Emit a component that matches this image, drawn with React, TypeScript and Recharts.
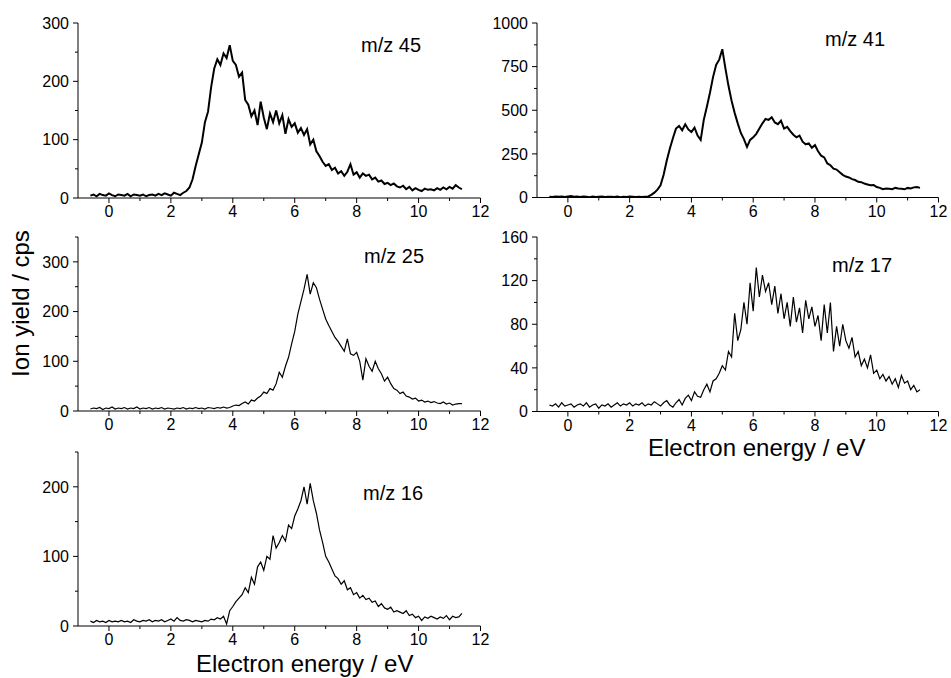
import React from 'react';
import { LineChart, Line, XAxis, YAxis } from 'recharts';

const energies = [
  -0.6, -0.5, -0.4, -0.3, -0.2, -0.1, 0.0, 0.1, 0.2, 0.3,
  0.4, 0.5, 0.6, 0.7, 0.8, 0.9, 1.0, 1.1, 1.2, 1.3,
  1.4, 1.5, 1.6, 1.7, 1.8, 1.9, 2.0, 2.1, 2.2, 2.3,
  2.4, 2.5, 2.6, 2.7, 2.8, 2.9, 3.0, 3.1, 3.2, 3.3,
  3.4, 3.5, 3.6, 3.7, 3.8, 3.9, 4.0, 4.1, 4.2, 4.3,
  4.4, 4.5, 4.6, 4.7, 4.8, 4.9, 5.0, 5.1, 5.2, 5.3,
  5.4, 5.5, 5.6, 5.7, 5.8, 5.9, 6.0, 6.1, 6.2, 6.3,
  6.4, 6.5, 6.6, 6.7, 6.8, 6.9, 7.0, 7.1, 7.2, 7.3,
  7.4, 7.5, 7.6, 7.7, 7.8, 7.9, 8.0, 8.1, 8.2, 8.3,
  8.4, 8.5, 8.6, 8.7, 8.8, 8.9, 9.0, 9.1, 9.2, 9.3,
  9.4, 9.5, 9.6, 9.7, 9.8, 9.9, 10.0, 10.1, 10.2, 10.3,
  10.4, 10.5, 10.6, 10.7, 10.8, 10.9, 11.0, 11.1, 11.2, 11.3,
  11.4,
];

const mz45 = [
  4, 6, 3, 7, 5, 4, 8, 5, 3, 6,
  5, 4, 7, 3, 6, 5, 4, 6, 3, 5,
  6, 4, 7, 5, 8, 6, 4, 9, 7, 5,
  9, 12, 18, 32, 55, 75, 95, 130, 148, 190,
  222, 238, 228, 248, 240, 262, 235, 228, 208, 215,
  168, 160, 140, 150, 125, 165, 138, 118, 145, 130,
  150, 128, 142, 110, 135, 122, 128, 112, 120, 108,
  118, 92, 100, 80, 72, 62, 55, 58, 48, 52,
  42, 46, 38, 45, 58, 40, 44, 35, 42, 38,
  40, 32, 35, 28, 30, 24, 26, 22, 25, 20,
  18, 21, 15, 19, 13, 17, 14, 12, 16, 14,
  15, 13, 17, 14, 18, 15, 19, 16, 22, 18,
  15,
];

const mz41 = [
  5, 3, 6, 4, 5, 3, 6, 8, 4, 5,
  3, 5, 4, 2, 5, 3, 4, 5, 3, 4,
  4, 3, 5, 2, 4, 3, 5, 4, 3, 4,
  3, 5, 6, 15, 28, 45, 70, 130, 210, 280,
  340, 395, 410, 385, 420, 390, 375, 400, 355, 330,
  445, 520, 600, 690, 760, 790, 850, 740, 640, 555,
  485, 425, 370, 335, 290, 330, 345, 365, 395, 425,
  450, 445, 460, 430, 420, 440, 395, 405, 380, 360,
  345, 355, 320, 305, 310, 285, 300, 265, 240, 230,
  195, 185, 165, 160, 145, 130, 120, 115, 105, 100,
  90, 88, 80, 75, 70, 72, 60, 55, 48, 52,
  50, 48, 55, 52, 50, 47, 55, 52, 58, 60,
  55,
];

const mz25 = [
  4, 6, 5, 7, 3, 6, 5, 8, 4, 6,
  5, 7, 4, 6, 5, 8, 4, 6, 5, 7,
  4, 6, 5, 7, 4, 6, 5, 4, 6, 5,
  7, 4, 6, 5, 7, 5, 6, 4, 7, 6,
  5, 7, 6, 8, 6, 7, 10, 12, 11, 15,
  18, 14, 22, 20, 26, 30, 38, 35, 45, 42,
  55, 78, 68, 90, 108, 135, 160, 195, 220, 245,
  275, 235, 258, 248, 225, 205, 185, 172, 160, 148,
  140, 130, 120, 145, 115, 112, 118, 100, 62, 105,
  90, 80, 100, 85, 75, 60, 68, 55, 45, 42,
  35, 38, 30, 28, 24, 26, 20, 22, 18, 20,
  17, 19, 16, 15, 18, 14, 16, 12, 14, 15,
  15,
];

const mz17 = [
  6, 5, 7, 4, 8, 5, 6, 7, 4, 6,
  7, 5, 8, 4, 6, 7, 3, 6, 5, 7,
  4, 6, 8, 5, 7, 6, 8, 5, 7, 6,
  8, 5, 7, 6, 9, 7, 5, 8, 10, 6,
  4, 8, 11, 6, 12, 15, 10, 18, 14, 13,
  20, 25, 18, 28, 30, 35, 42, 38, 55, 50,
  90, 65, 75, 100, 80, 118, 92, 132, 105, 125,
  110, 118, 98, 115, 90, 108, 85, 100, 78, 105,
  82, 95, 72, 102, 85, 96, 78, 88, 65, 98,
  72, 100, 55, 78, 60, 80, 65, 58, 68, 50,
  55, 42, 48, 40, 52, 35, 38, 30, 34, 28,
  32, 25, 30, 22, 33, 26, 28, 20, 24, 18,
  20,
];

const mz16 = [
  7, 5, 8, 6, 7, 5, 8, 6, 7, 6,
  8, 6, 7, 5, 9, 7, 6, 8, 7, 9,
  6, 8, 7, 9, 6, 8, 10, 7, 12, 8,
  7, 9, 8, 6, 8, 7, 6, 8, 7, 10,
  9, 12, 10, 14, 3, 22, 28, 35, 40, 45,
  55, 48, 70, 60, 85, 92, 80, 100, 96, 130,
  112, 120, 130, 122, 145, 140, 158, 168, 180, 200,
  175, 205, 180, 162, 138, 120, 100, 92, 82, 72,
  68, 60, 65, 52, 55, 45, 48, 40, 44, 38,
  40, 34, 36, 28, 32, 26, 24, 27, 20, 22,
  20, 18, 22, 15, 17, 12, 14, 8, 13, 11,
  14, 12, 10, 13, 11, 15, 9, 14, 12, 13,
  18,
];

const xTicks = [0, 1, 2, 3, 4, 5, 6, 7, 8, 9, 10, 11, 12];
const xMajorStep = 2;

const labels = ['m/z 45', 'm/z 41', 'm/z 25', 'm/z 17', 'm/z 16'];
const xTitle = 'Electron energy / eV';
const yTitle = 'Ion yield / cps';

const FONT = '"Liberation Sans", Arial, Helvetica, sans-serif';
const YW = 50;
const XH = 25;

const makeTicks = (max: number, step: number) => {
  const out: number[] = [];
  for (let v = 0; v <= max + 1e-9; v += step) out.push(v);
  return out;
};

const XTick = (props: any) => {
  const { x, y, payload } = props;
  const v = payload.value;
  const major = Math.abs(v % xMajorStep) < 1e-9;
  return (
    <g>
      <line x1={x} x2={x} y1={y} y2={y + (major ? 5 : 3)} stroke="#000" strokeWidth={1} />
      {major && (
        <text x={x} y={y + 19} textAnchor="middle" fontSize={16} fontFamily={FONT} fill="#000">
          {v}
        </text>
      )}
    </g>
  );
};

const makeYTick = (majorStep: number) => (props: any) => {
  const { x, y, payload } = props;
  const v = payload.value;
  const major = Math.abs(v % majorStep) < 1e-9;
  return (
    <g>
      <line x1={x} x2={x - (major ? 5 : 3)} y1={y} y2={y} stroke="#000" strokeWidth={1} />
      {major && (
        <text x={x - 9} y={y + 5.8} textAnchor="end" fontSize={16} fontFamily={FONT} fill="#000">
          {v}
        </text>
      )}
    </g>
  );
};

type PanelProps = {
  values: number[];
  yMax: number;
  minorStep: number;
  majorStep: number;
  svgLeft: number;
  plotL: number;
  plotR: number;
  plotT: number;
  plotB: number;
  strokeWidth: number;
};

const Panel = ({ values, yMax, minorStep, majorStep, svgLeft, plotL, plotR, plotT, plotB, strokeWidth }: PanelProps) => {
  const svgTop = plotT - 15;
  const width = plotR - svgLeft + 15;
  const height = plotB - svgTop + 30;
  const margin = {
    top: plotT - svgTop,
    right: svgLeft + width - plotR,
    bottom: svgTop + height - plotB - XH,
    left: plotL - svgLeft - YW,
  };
  const data = energies.map((e, i) => ({ e, v: values[i] }));
  return (
    <div style={{ position: 'absolute', left: svgLeft, top: svgTop }}>
      <LineChart width={width} height={height} data={data} margin={margin}>
        <XAxis
          dataKey="e"
          type="number"
          domain={[-1, 12]}
          ticks={xTicks}
          interval={0}
          height={XH}
          tickSize={0}
          tickMargin={0}
          tickLine={false}
          axisLine={{ stroke: '#000', strokeWidth: 1 }}
          tick={<XTick />}
          allowDataOverflow
        />
        <YAxis
          type="number"
          domain={[0, yMax]}
          ticks={makeTicks(yMax, minorStep)}
          interval={0}
          width={YW}
          tickSize={0}
          tickMargin={0}
          tickLine={false}
          axisLine={{ stroke: '#000', strokeWidth: 1 }}
          tick={makeYTick(majorStep)}
          allowDataOverflow
        />
        <Line
          type="linear"
          dataKey="v"
          stroke="#000"
          strokeWidth={strokeWidth}
          dot={false}
          isAnimationActive={false}
        />
      </LineChart>
    </div>
  );
};

export default function App() {
  return (
    <div style={{ position: 'absolute', left: 0, top: 0, width: 951, height: 678, background: '#fff', overflow: 'hidden' }}>
      <Panel values={mz45} yMax={300} minorStep={50} majorStep={100} svgLeft={0} plotL={78} plotR={480.5} plotT={23} plotB={198} strokeWidth={2} />
      <Panel values={mz41} yMax={1000} minorStep={125} majorStep={250} svgLeft={470} plotL={537} plotR={938.5} plotT={23} plotB={197.5} strokeWidth={2} />
      <Panel values={mz25} yMax={350} minorStep={50} majorStep={100} svgLeft={0} plotL={78} plotR={480.5} plotT={237} plotB={411} strokeWidth={1.2} />
      <Panel values={mz17} yMax={160} minorStep={20} majorStep={40} svgLeft={470} plotL={537} plotR={938.5} plotT={237} plotB={411.5} strokeWidth={1.2} />
      <Panel values={mz16} yMax={250} minorStep={50} majorStep={100} svgLeft={0} plotL={78} plotR={480.5} plotT={452} plotB={626} strokeWidth={1.2} />
      <svg width={951} height={678} style={{ position: 'absolute', left: 0, top: 0, pointerEvents: 'none' }}>
        <g fontFamily={FONT} fill="#000">
          <text x={361} y={52} fontSize={20}>{labels[0]}</text>
          <text x={825} y={46} fontSize={20}>{labels[1]}</text>
          <text x={364} y={263} fontSize={20}>{labels[2]}</text>
          <text x={832} y={272} fontSize={20}>{labels[3]}</text>
          <text x={363} y={500} fontSize={20}>{labels[4]}</text>
          <text x={196} y={672} fontSize={24}>{xTitle}</text>
          <text x={648} y={456} fontSize={24}>{xTitle}</text>
          <text x={29} y={303.5} fontSize={24} textAnchor="middle" transform="rotate(-90 29 303.5)">{yTitle}</text>
        </g>
      </svg>
    </div>
  );
}
